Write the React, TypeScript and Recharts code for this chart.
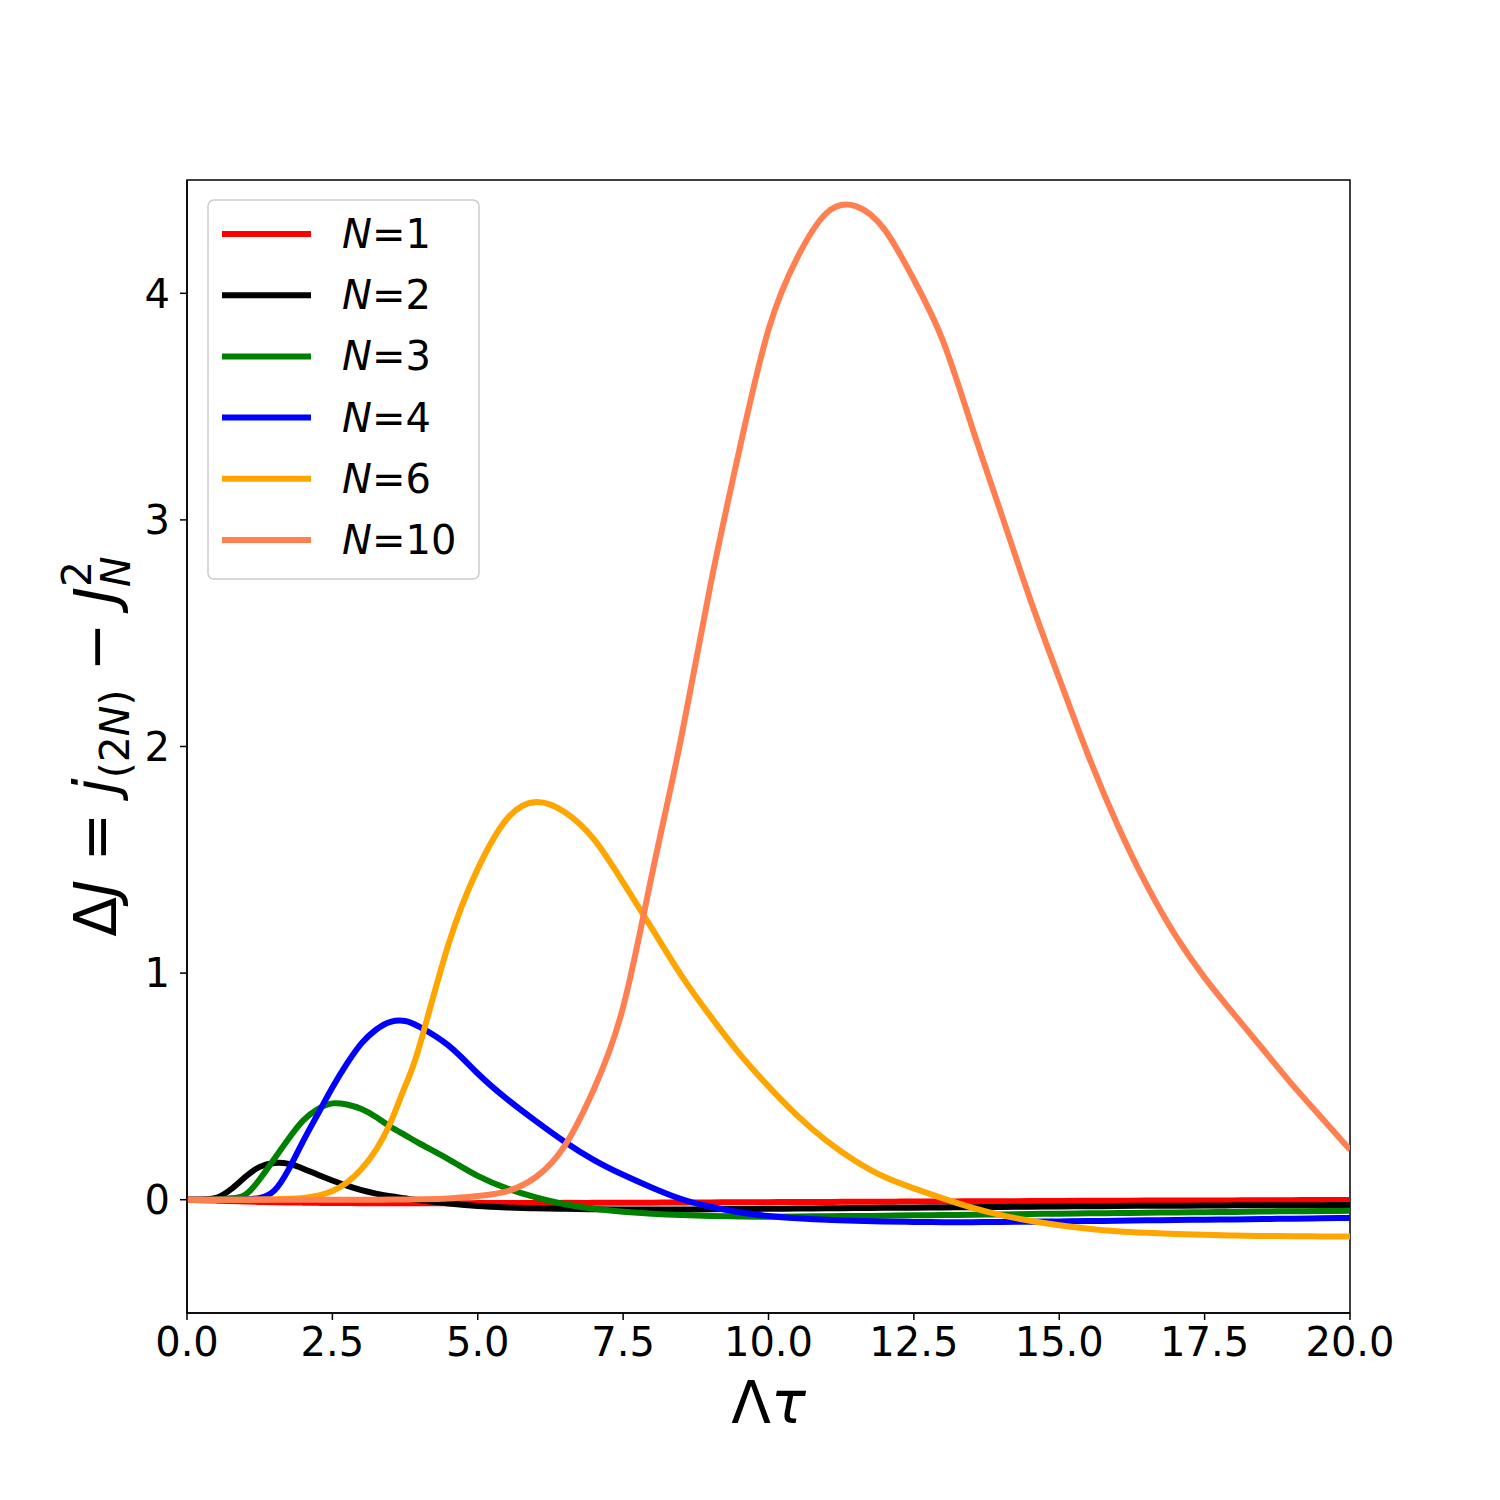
import React from 'react';
import { LineChart, Line, XAxis, YAxis, ReferenceArea } from 'recharts';

// Λτ sample points (finer spacing over the early rise)
const tau = [
  0, 0.25, 0.5, 0.75, 1, 1.25, 1.5, 1.75, 2, 2.25, 2.5, 2.75, 3, 3.25, 3.5, 3.75, 4,
  4.5, 5, 5.5, 6, 6.5, 7, 7.5, 8, 8.5, 9, 9.5, 10, 10.5, 11, 11.5, 12, 12.5, 13, 13.5,
  14, 14.5, 15, 15.5, 16, 16.5, 17, 17.5, 18, 18.5, 19, 19.5, 20,
];

// ΔJ for each N
const dJ1 = [
  0, -0.002, -0.004, -0.006, -0.008, -0.01, -0.011, -0.012, -0.013, -0.014, -0.015, -0.015, -0.016, -0.016, -0.016, -0.016, -0.016,
  -0.016, -0.015, -0.015, -0.015, -0.014, -0.014, -0.013, -0.013, -0.012, -0.012, -0.011, -0.011, -0.01, -0.01, -0.009, -0.009,
  -0.008, -0.008, -0.007, -0.007, -0.006, -0.006, -0.005, -0.005, -0.004, -0.004, -0.003, -0.003, -0.002, -0.002, -0.001, -0.001,
];
const dJ2 = [
  0, 0.001, 0.008, 0.045, 0.1, 0.145, 0.162, 0.158, 0.137, 0.11, 0.085, 0.062, 0.042, 0.027, 0.015, 0.006, -0.003,
  -0.017, -0.028, -0.034, -0.038, -0.04, -0.042, -0.043, -0.043, -0.043, -0.042, -0.041, -0.04, -0.039, -0.038, -0.037, -0.036,
  -0.035, -0.034, -0.033, -0.032, -0.031, -0.03, -0.029, -0.028, -0.027, -0.027, -0.026, -0.025, -0.025, -0.024, -0.024, -0.023,
];
const dJ3 = [
  0, 0, 0.001, 0.006, 0.022, 0.09, 0.18, 0.27, 0.35, 0.4, 0.425, 0.42, 0.4, 0.365, 0.322, 0.285, 0.248,
  0.178, 0.105, 0.05, 0.01, -0.02, -0.04, -0.053, -0.062, -0.068, -0.072, -0.074, -0.075, -0.074, -0.073, -0.072, -0.071,
  -0.069, -0.068, -0.066, -0.065, -0.063, -0.062, -0.06, -0.059, -0.058, -0.056, -0.055, -0.054, -0.052, -0.051, -0.05, -0.049,
];
const dJ4 = [
  0, 0, 0, 0, 0.001, 0.008, 0.04, 0.135, 0.26, 0.378, 0.495, 0.6, 0.69, 0.75, 0.785, 0.789, 0.763,
  0.68, 0.557, 0.445, 0.347, 0.255, 0.175, 0.11, 0.053, 0.003, -0.031, -0.055, -0.072, -0.082, -0.089, -0.093, -0.096,
  -0.098, -0.099, -0.099, -0.098, -0.097, -0.096, -0.094, -0.093, -0.091, -0.09, -0.088, -0.087, -0.085, -0.084, -0.082, -0.081,
];
const dJ6 = [
  0, 0, 0, 0, 0, 0.001, 0.002, 0.004, 0.008, 0.018, 0.038, 0.075, 0.135, 0.22, 0.34, 0.5, 0.68,
  1.13, 1.46, 1.68, 1.755, 1.71, 1.59, 1.4, 1.195, 0.99, 0.81, 0.645, 0.5, 0.37, 0.26, 0.17, 0.1,
  0.05, 0.006, -0.035, -0.068, -0.093, -0.113, -0.128, -0.139, -0.146, -0.151, -0.155, -0.158, -0.16, -0.161, -0.162, -0.162,
];
const dJ10 = [
  0, 0, 0, 0, 0, 0, 0, 0, 0, 0, 0, 0, 0, 0, 0.001, 0.001, 0.002,
  0.005, 0.016, 0.037, 0.1, 0.24, 0.49, 0.85, 1.44, 2.04, 2.71, 3.31, 3.84, 4.16, 4.355, 4.385, 4.28,
  4.06, 3.79, 3.41, 3.03, 2.65, 2.3, 1.96, 1.655, 1.39, 1.165, 0.98, 0.82, 0.665, 0.51, 0.365, 0.22,
];

const nLabels = ['1', '2', '3', '4', '6', '10'];
const colors = ['#ff0000', '#000000', '#008000', '#0000ff', '#ffa500', '#ff7f50'];
const seriesValues = [dJ1, dJ2, dJ3, dJ4, dJ6, dJ10];

const xTicks = [0, 2.5, 5, 7.5, 10, 12.5, 15, 17.5, 20];
const yTicks = [0, 1, 2, 3, 4];
const xDomain: [number, number] = [0, 20];
const yDomain: [number, number] = [-0.5, 4.5];

const series = nLabels.map((n, i) => ({ key: `N${n}`, n, color: colors[i], values: seriesValues[i] }));

const data = tau.map((t, i) => {
  const row: Record<string, number> = { tau: t };
  series.forEach((s) => {
    row[s.key] = s.values[i];
  });
  return row;
});

const FONT = 'DejaVu Sans';
const TICK_FONT = 40;
const TITLE_FONT = 58;
const LINE_W = 6;

const XTitle = (props: any) => {
  const vb = props.viewBox || { x: 187, y: 1313, width: 1163, height: 60 };
  return (
    <text
      x={vb.x + vb.width / 2}
      y={vb.y + 110}
      textAnchor="middle"
      fontFamily={FONT}
      fontSize={TITLE_FONT}
      fill="#000"
    >
      <tspan>Λ</tspan>
      <tspan fontStyle="italic">τ</tspan>
    </text>
  );
};

const YTitle = (props: any) => {
  const vb = props.viewBox || { x: 87, y: 180, width: 100, height: 1133 };
  const cx = vb.x + 29;
  const cy = vb.y + vb.height / 2;
  const small = Math.round(TITLE_FONT * 0.7);
  return (
    <text
      transform={`translate(${cx},${cy}) rotate(-90)`}
      x={0}
      y={0}
      textAnchor="middle"
      fontFamily={FONT}
      fontSize={TITLE_FONT}
      fill="#000"
    >
      <tspan>Δ</tspan>
      <tspan fontStyle="italic">J</tspan>
      <tspan>{' = '}</tspan>
      <tspan fontStyle="italic">j</tspan>
      <tspan fontSize={small} dy={13}>(2</tspan>
      <tspan fontSize={small} fontStyle="italic">N</tspan>
      <tspan fontSize={small}>)</tspan>
      <tspan dy={-13}>{' − '}</tspan>
      <tspan fontStyle="italic">J</tspan>
      <tspan fontSize={small} dy={-25}>2</tspan>
      <tspan fontSize={small} fontStyle="italic" dx={-26} dy={39}>N</tspan>
    </text>
  );
};

const LegendBox = () => {
  const rowGap = 61.2;
  return (
    <div style={{ position: 'absolute', left: 207, top: 199, width: 274, height: 382, pointerEvents: 'none' }}>
      <svg width={274} height={382}>
        <rect
          x={1}
          y={1}
          width={271}
          height={379}
          rx={6}
          ry={6}
          fill="#ffffff"
          fillOpacity={0.8}
          stroke="#cccccc"
          strokeWidth={1.5}
        />
        {series.map((s, i) => {
          const y = 35 + i * rowGap;
          return (
            <g key={s.key}>
              <line x1={15} x2={104} y1={y} y2={y} stroke={s.color} strokeWidth={LINE_W} />
              <text x={135} y={y + 14} fontFamily={FONT} fontSize={TICK_FONT} fill="#000">
                <tspan fontStyle="italic">N</tspan>
                <tspan>{`=${s.n}`}</tspan>
              </text>
            </g>
          );
        })}
      </svg>
    </div>
  );
};

export default function App() {
  const tickStyle = { fontSize: TICK_FONT, fill: '#000', fontFamily: FONT };
  return (
    <div style={{ position: 'absolute', left: 0, top: 0, width: 1500, height: 1500, background: '#fff' }}>
      <LineChart
        width={1500}
        height={1500}
        data={data}
        margin={{ top: 180, right: 150, bottom: 127, left: 87 }}
      >
        <XAxis
          dataKey="tau"
          type="number"
          domain={xDomain}
          ticks={xTicks}
          tickFormatter={(v: number) => v.toFixed(1)}
          height={60}
          tickSize={7}
          tickMargin={8}
          tick={tickStyle}
          axisLine={{ stroke: '#000', strokeWidth: 1.5 }}
          tickLine={{ stroke: '#000', strokeWidth: 1.5 }}
          allowDataOverflow
          interval={0}
          label={<XTitle />}
        />
        <YAxis
          type="number"
          domain={yDomain}
          ticks={yTicks}
          width={100}
          tickSize={7}
          tickMargin={10}
          tick={tickStyle}
          axisLine={{ stroke: '#000', strokeWidth: 1.5 }}
          tickLine={{ stroke: '#000', strokeWidth: 1.5 }}
          allowDataOverflow
          interval={0}
          label={<YTitle />}
        />
        {series.map((s) => (
          <Line
            key={s.key}
            dataKey={s.key}
            type="natural"
            stroke={s.color}
            strokeWidth={LINE_W}
            dot={false}
            activeDot={false}
            isAnimationActive={false}
            strokeLinejoin="round"
          />
        ))}
        {/* axes frame */}
        <ReferenceArea
          x1={xDomain[0]}
          x2={xDomain[1]}
          y1={yDomain[0]}
          y2={yDomain[1]}
          fill="none"
          fillOpacity={0}
          stroke="#000"
          strokeWidth={1.5}
          ifOverflow="visible"
        />
      </LineChart>
      <LegendBox />
    </div>
  );
}
